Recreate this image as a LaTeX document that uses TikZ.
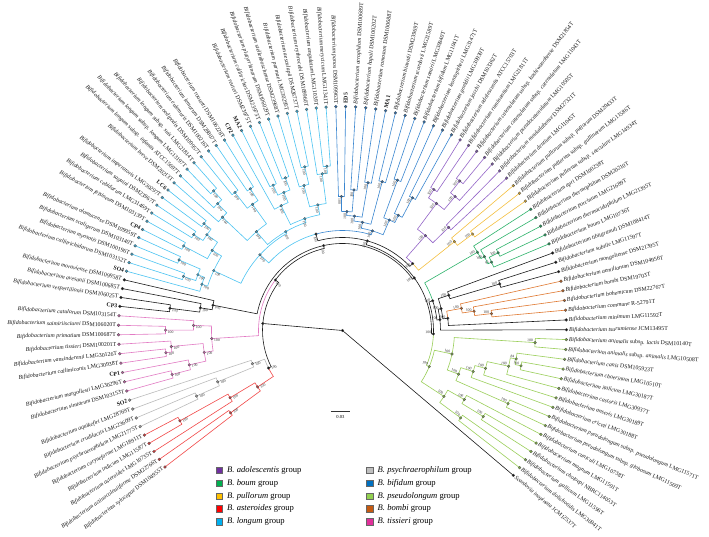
\documentclass[tikz,border=0pt]{standalone}
\usepackage{fontspec}
\setmainfont{Liberation Serif}
\pgfdeclarelayer{fg}
\pgfsetlayers{main,fg}
\definecolor{psl}{HTML}{9BCF5A}
\definecolor{bom}{HTML}{E07830}
\definecolor{blk}{HTML}{1A1A1A}
\definecolor{bou}{HTML}{2DB36B}
\definecolor{pul}{HTML}{F5C040}
\definecolor{ado}{HTML}{9466C8}
\definecolor{bif}{HTML}{3A86D0}
\definecolor{lon}{HTML}{4CC4F2}
\definecolor{tis}{HTML}{E27BC4}
\definecolor{psy}{HTML}{BBBBBB}
\definecolor{ast}{HTML}{F24848}
\definecolor{lgado}{HTML}{7030A0}
\definecolor{lgbou}{HTML}{00B050}
\definecolor{lgpul}{HTML}{FFC000}
\definecolor{lgast}{HTML}{FF0000}
\definecolor{lglon}{HTML}{00B0F0}
\definecolor{lgpsy}{HTML}{BFBFBF}
\definecolor{lgbif}{HTML}{0070C0}
\definecolor{lgpsl}{HTML}{92D050}
\definecolor{lgbom}{HTML}{C55A11}
\definecolor{lgtis}{HTML}{E0309A}
\tikzset{
  branch/.style={line width=0.6pt},
  leaflab/.style={font=\fontsize{5.85}{6.5}\selectfont, inner sep=0.4pt, text=black!90},
  bslab/.style={font=\fontsize{3.8}{4}\selectfont, inner sep=0.3pt, text=black!80},
  lgbox/.style={draw=black!60, line width=0.3pt, minimum size=6.3pt, inner sep=0pt},
  lgtext/.style={font=\fontsize{8.6}{10}\selectfont, anchor=west, inner sep=0pt},
}
\newcommand\getA[1]{\csname TA#1\endcsname}
\newcommand\getR[1]{\csname TR#1\endcsname}
\newcommand\getC[1]{\csname TC#1\endcsname}
\newcommand\clade[5]{%
  \gdef\cfirst{}%
  \foreach \ch in {#5}{\ifx\cfirst\empty\xdef\cfirst{\ch}\fi\xdef\clast{\ch}}%
  \pgfmathsetmacro\cang{(\getA{\cfirst}+\getA{\clast})/2}%
  \expandafter\xdef\csname TA#1\endcsname{\cang}%
  \expandafter\xdef\csname TR#1\endcsname{#2}%
  \expandafter\xdef\csname TC#1\endcsname{#3}%
  \foreach \ch in {#5}{%
    \edef\chA{\getA{\ch}}\edef\chR{\getR{\ch}}\edef\chC{\getC{\ch}}%
    \draw[branch,draw=\chC] (\cang:#2pt) arc[start angle=\cang, end angle=\chA, radius=#2pt] -- (\chA:\chR pt);
  }%
  \begin{pgfonlayer}{fg}
    \filldraw[draw=black!70, fill=#3!80!black, line width=0.25pt] (\cang:#2pt) circle[radius=1.35pt];
    \ifdim\cang pt<90pt
      \node[bslab, rotate=\cang, anchor=south east] at (\cang:#2pt-1.8pt) {#4};
    \else
      \node[bslab, rotate=\cang-180, anchor=north west] at (\cang:#2pt-1.8pt) {#4};
    \fi
  \end{pgfonlayer}
}
\begin{document}
\begin{tikzpicture}[x=1pt,y=1pt]
\useasboundingbox (-342.5,-206.5) rectangle (366.5,330.5);
\fill[white] (-342.5,-206.5) rectangle (366.5,330.5);
% ---------- leaves ----------
\foreach \i/\spn/\stn/\cl in {
1/Scardovia inopinata/JCM12537T/blk,
2/Bifidobacterium dolichotidis/LMG30941T/psl,
3/Bifidobacterium gallicum/LMG11596T/psl,
4/Bifidobacterium choloepi/NBRC114053T/psl,
5/Bifidobacterium magnum/LMG11591T/psl,
6/Bifidobacterium cuniculi/LMG10738T/psl,
7/Bifidobacterium pseudolongum \textup{subsp.} globosum/LMG11569T/psl,
8/Bifidobacterium pseudolongum \textup{subsp.} pseudolongum/LMG11571T/psl,
9/Bifidobacterium criceti/LMG30188T/psl,
10/Bifidobacterium anseris/LMG30189T/psl,
11/Bifidobacterium castoris/LMG30937T/psl,
12/Bifidobacterium italicum/LMG30187T/psl,
13/Bifidobacterium choerinum/LMG10510T/psl,
14/Bifidobacterium canis/DSM105923T/psl,
15/Bifidobacterium animalis \textup{subsp.} animalis/LMG10508T/psl,
16/Bifidobacterium animalis \textup{subsp.} lactis/DSM10140T/psl,
17/Bifidobacterium tsurumiense/JCM13495T/blk,
18/Bifidobacterium minimum/LMG11592T/blk,
19/Bifidobacterium commune/R-52791T/bom,
20/Bifidobacterium bohemicum/DSM22767T/bom,
21/Bifidobacterium bombi/DSM19703T/bom,
22/Bifidobacterium aemilianum/DSM104956T/bom,
23/Bifidobacterium mongoliense/DSM21395T/blk,
24/Bifidobacterium subtile/LMG11597T/blk,
25/Bifidobacterium tibiigranuli/DSM108414T/blk,
26/Bifidobacterium boum/LMG10736T/bou,
27/Bifidobacterium thermacidophilum/LMG21395T/bou,
28/Bifidobacterium porcinum/LMG21689T/bou,
29/Bifidobacterium thermophilum/DSM20210T/bou,
30/Bifidobacterium apri/DSM100238T/bou,
31/Bifidobacterium pullorum \textup{subsp.} saeculare/LMG14934T/pul,
32/Bifidobacterium pullorum \textup{subsp.} gallinarum/LMG11586T/pul,
33/Bifidobacterium pullorum \textup{subsp.} pullorum/DSM20433T/pul,
34/Bifidobacterium dentium/LMG11045T/ado,
35/Bifidobacterium moukalabense/DSM27321T/ado,
36/Bifidobacterium pseudocatenulatum/LMG10505T/ado,
37/Bifidobacterium catenulatum \textup{subsp.} catenulatum/LMG11043T/ado,
38/Bifidobacterium catenulatum \textup{subsp.} kashiwanohense/DSM21854T/ado,
39/Bifidobacterium ruminantium/LMG21811T/ado,
40/Bifidobacterium adolescentis/ATCC15703T/ado,
41/Bifidobacterium jacchi/DSM103362T/bif,
42/Bifidobacterium goeldii/LMG30939T/bif,
43/Bifidobacterium leontopitheci/LMG31471T/bif,
44/Bifidobacterium bifidum/LMG11041T/bif,
45/Bifidobacterium samirii/LMG30940T/bif,
46/Bifidobacterium scardovii/LMG21589T/bif,
47/Bifidobacterium biavatii/DSM23969T/bif,
48//MA1/bif,
49/Bifidobacterium ramosum/DSM100688T/bif,
50/Bifidobacterium hapali/DSM100202T/bif,
51/Bifidobacterium aerophilum/DSM100689T/bif,
52//ED5/bif,
53/Bifidobacterium panos/DSM109963T/bif,
54/Bifidobacterium merycicum/LMG11341T/lon,
55/Bifidobacterium angulatum/LMG11039T/lon,
56/Bifidobacterium erythrocebi/DSM109960T/lon,
57/Bifidobacterium aesculapii/DSM26737T/lon,
58/Bifidobacterium parmae/LMG30295T/lon,
59/Bifidobacterium stellenboschense/DSM23968T/lon,
60/Bifidobacterium platyrrhinorum/DSM106029T/lon,
61/Bifidobacterium callitrichos/DSM23973T/lon,
62/Bifidobacterium reuteri/DSM23975T/lon,
63//MA2/lon,
64//CP2/lon,
65/Bifidobacterium rousetti/DSM106228T/lon,
66/Bifidobacterium lemurum/DSM28807T/lon,
67/Bifidobacterium eulemuris/DSM100216T/lon,
68/Bifidobacterium oedipodis/DSM109957T/lon,
69/Bifidobacterium longum \textup{subsp.} suis/LMG21814T/lon,
70/Bifidobacterium longum \textup{subsp.} longum/LMG13197T/lon,
71/Bifidobacterium longum \textup{subsp.} infantis/ATCC15697T/lon,
72/Bifidobacterium breve/DSM20213T/lon,
73//LC6/lon,
74/Bifidobacterium imperatoris/LMG30297T/lon,
75/Bifidobacterium saguini/DSM23967T/lon,
76/Bifidobacterium cebidarum/LMG31469T/lon,
77/Bifidobacterium felsineum/DSM103139T/lon,
78//CP4/lon,
79/Bifidobacterium olomucense/DSM109959T/lon,
80/Bifidobacterium scaligerum/DSM103140T/lon,
81/Bifidobacterium myosotis/DSM100196T/lon,
82/Bifidobacterium callitrichidarum/DSM103152T/lon,
83//SO4/lon,
84/Bifidobacterium moraviense/DSM109958T/blk,
85/Bifidobacterium avesanii/DSM100685T/blk,
86/Bifidobacterium vespertilionis/DSM106025T/blk,
87//CP3/blk,
88/Bifidobacterium catulorum/DSM103154T/tis,
89/Bifidobacterium saimiriisciurei/DSM106020T/tis,
90/Bifidobacterium primatium/DSM100687T/tis,
91/Bifidobacterium tissieri/DSM100201T/tis,
92/Bifidobacterium vansinderenii/LMG30126T/tis,
93/Bifidobacterium callimiconis/LMG30938T/tis,
94//CP1/tis,
95/Bifidobacterium margollesii/LMG30296T/tis,
96/Bifidobacterium simiarum/DSM103153T/tis,
97//SO2/psy,
98/Bifidobacterium aquikefiri/LMG28769T/psy,
99/Bifidobacterium crudilactis/LMG23609T/psy,
100/Bifidobacterium psychraerophilum/LMG21775T/psy,
101/Bifidobacterium coryneforme/LMG18911T/ast,
102/Bifidobacterium indicum/LMG11587T/ast,
103/Bifidobacterium asteroides/LMG10735T/ast,
104/Bifidobacterium actinocoloniiforme/DSM22766T/ast,
105/Bifidobacterium xylocopae/DSM104955T/ast}{
  \pgfmathsetmacro\tmpa{\i<=17 ? -40.3+(\i-1)*2.531 : (\i<=33 ? 0.2+(\i-17)*2.506 : (\i<=41 ? 40.3+(\i-33)*2.575 : (\i<=52 ? 60.9+(\i-41)*2.573 : (\i<=66 ? 89.2+(\i-52)*2.507 : (\i<=78 ? 124.3+(\i-66)*2.408 : (\i<=87 ? 153.2+(\i-78)*2.289 : 173.8+(\i-87)*2.431))))))}
  \expandafter\xdef\csname TAL\i\endcsname{\tmpa}
  \expandafter\xdef\csname TRL\i\endcsname{224}
  \expandafter\xdef\csname TCL\i\endcsname{\cl}
  \begin{pgfonlayer}{fg}
    \filldraw[draw=black!70, fill=\cl!80!black, line width=0.25pt] (\tmpa:224pt) circle[radius=1.45pt];
  \end{pgfonlayer}
  \ifdim\tmpa pt<90pt
    \node[leaflab, anchor=west, rotate=\tmpa] (lab\i) at (\tmpa:226pt) {\ifx\spn\empty\textbf{\stn}\else\textit{\spn}~\stn\fi};
  \else
    \node[leaflab, anchor=east, rotate=\tmpa-180] (lab\i) at (\tmpa:226pt) {\ifx\spn\empty\textbf{\stn}\else\textit{\spn}~\stn\fi};
  \fi
}
% ---------- B. pseudolongum group ----------
\clade{p1}{182}{psl}{100}{L12,L13}
\clade{p2}{176}{psl}{84}{p1,L14}
\clade{p3}{170}{psl}{100}{L11,p2}
\clade{p4}{148}{psl}{100}{L10,p3}
\clade{p5}{137}{psl}{100}{L9,p4}
\clade{psa}{181}{psl}{100}{L7,L8}
\clade{p6}{124}{psl}{100}{psa,p5}
\clade{an}{193}{psl}{100}{L15,L16}
\clade{p7}{112}{psl}{100}{p6,an}
\clade{q1}{147}{psl}{100}{L2,L3}
\clade{q2}{165}{psl}{100}{L4,L5}
\clade{q3}{140}{psl}{100}{q2,L6}
\clade{q4}{121}{psl}{100}{q1,q3}
\clade{PS}{94}{psl}{100}{q4,p7}
% ---------- bombi group and ungrouped ----------
\clade{bo1}{150}{bom}{100}{L19,L20}
\clade{bo2}{133}{bom}{100}{bo1,L21}
\clade{bo3}{121}{bom}{100}{bo2,L22}
\clade{mb}{106}{blk}{100}{L18,bo3}
\clade{un1}{164}{blk}{100}{L23,L24}
\clade{un2}{112}{blk}{100}{un1,L25}
\clade{mbu}{101}{blk}{100}{mb,un2}
\clade{tm}{98}{blk}{100}{L17,mbu}
% ---------- B. boum group ----------
\clade{bm1}{174}{bou}{100}{L27,L28}
\clade{bm2}{164}{bou}{91}{L26,bm1}
\clade{bm3}{160}{bou}{100}{bm2,L29}
\clade{bm4}{156}{bou}{100}{bm3,L30}
\clade{N2}{95}{blk}{100}{tm,bm4}
\clade{N1}{91}{blk}{100}{PS,N2}
% ---------- B. pullorum and B. adolescentis groups ----------
\clade{pu1}{162}{pul}{100}{L31,L32}
\clade{pu2}{143}{pul}{100}{pu1,L33}
\clade{ad1}{190}{ado}{100}{L37,L38}
\clade{ad2}{175}{ado}{100}{L36,ad1}
\clade{ad3}{168}{ado}{100}{L39,L40}
\clade{ad4}{158}{ado}{100}{ad2,ad3}
\clade{ad5}{148}{ado}{100}{L34,L35}
\clade{ad6}{126}{ado}{100}{ad5,ad4}
\clade{N5}{97}{blk}{100}{pu2,ad6}
% ---------- B. bifidum group ----------
\clade{bf1}{150}{bif}{100}{L41,L42}
\clade{bf2}{128}{bif}{100}{bf1,L43}
\clade{bf3}{160}{bif}{100}{L44,L45}
\clade{bf4}{120}{bif}{100}{bf2,bf3}
\clade{bf5}{154}{bif}{100}{L46,L47}
\clade{bf6}{150}{bif}{100}{L48,L49}
\clade{bf7}{141}{bif}{100}{L50,L51}
\clade{bf8}{134}{bif}{100}{L52,L53}
\clade{bf9}{119}{bif}{100}{bf7,bf8}
\clade{bf10}{115}{bif}{100}{bf6,bf9}
\clade{bf11}{110}{bif}{100}{bf5,bf10}
\clade{BF}{104}{bif}{100}{bf4,bf11}
% ---------- B. longum group ----------
\clade{l1}{165}{lon}{100}{L54,L55}
\clade{l2}{158}{lon}{100}{l1,L56}
\clade{l3}{168}{lon}{100}{L57,L58}
\clade{l4}{150}{lon}{100}{l3,L59}
\clade{l5}{128}{lon}{100}{l2,l4}
\clade{l6}{163}{lon}{100}{L60,L61}
\clade{l7}{161}{lon}{100}{L62,L63}
\clade{l8}{150}{lon}{100}{l6,l7}
\clade{l9}{139}{lon}{100}{l8,L64}
\clade{l10}{118}{lon}{100}{l5,l9}
\clade{l11}{169}{lon}{100}{L65,L66}
\clade{l12}{175}{lon}{100}{L67,L68}
\clade{l13}{155}{lon}{100}{l11,l12}
\clade{l14}{190}{lon}{100}{L69,L70}
\clade{l15}{178}{lon}{100}{l14,L71}
\clade{l16}{165}{lon}{100}{l15,L72}
\clade{l17}{131}{lon}{100}{l13,l16}
\clade{l18}{114}{lon}{100}{l10,l17}
\clade{l19}{175}{lon}{100}{L73,L74}
\clade{l20}{177}{lon}{100}{L75,L76}
\clade{l21}{166}{lon}{100}{l19,l20}
\clade{l22}{180}{lon}{100}{L77,L78}
\clade{l23}{153}{lon}{100}{l21,l22}
\clade{l24}{178}{lon}{100}{L79,L80}
\clade{l25}{168}{lon}{100}{L81,L82}
\clade{l26}{155}{lon}{100}{l24,l25}
\clade{l27}{148}{lon}{100}{l26,L83}
\clade{l28}{142}{lon}{100}{l23,l27}
\clade{l29}{112}{lon}{100}{l18,l28}
\clade{LB}{100}{blk}{100}{BF,l29}
\clade{N4}{93}{blk}{100}{N5,LB}
\clade{N3}{89}{blk}{100}{N1,N4}
% ---------- ungrouped black cluster ----------
\clade{k1}{174}{blk}{100}{L86,L87}
\clade{k2}{144}{blk}{100}{L85,k1}
\clade{K}{132}{blk}{100}{L84,k2}
\clade{E}{87}{blk}{100}{N3,K}
% ---------- B. tissieri group ----------
\clade{t1}{177}{tis}{100}{L89,L90}
\clade{t2}{149}{tis}{100}{L88,t1}
\clade{t3}{178}{tis}{100}{L92,L93}
\clade{t4}{172}{tis}{100}{L91,t3}
\clade{t6}{176}{tis}{100}{L95,L96}
\clade{t5}{157}{tis}{100}{L94,t6}
\clade{t7}{140}{tis}{100}{t4,t5}
\clade{T}{131}{tis}{100}{t2,t7}
\clade{D}{84}{blk}{100}{E,T}
% ---------- B. psychraerophilum and B. asteroides groups ----------
\clade{gr1}{160}{psy}{100}{L99,L100}
\clade{gr2}{135}{psy}{100}{L98,gr1}
\clade{GR}{96}{psy}{100}{L97,gr2}
\clade{rd1}{186}{ast}{100}{L101,L102}
\clade{rd2}{131}{ast}{100}{rd1,L103}
\clade{rd3}{139}{ast}{100}{L104,L105}
\clade{RD}{102}{ast}{100}{rd2,rd3}
\clade{P}{83}{blk}{100}{GR,RD}
\clade{I}{80}{blk}{}{D,P}
% ---------- root ----------
\coordinate (root) at (0,0);
\draw[branch,draw=blk] (root) -- (\getA{L1}:224pt);
\draw[branch,draw=blk] (root) -- (\getA{I}:\getR{I} pt);
\begin{pgfonlayer}{fg}
  \filldraw[draw=black!70, fill=black, line width=0.25pt] (root) circle[radius=1.35pt];
\end{pgfonlayer}
% ---------- scale bar ----------
\coordinate (sbL) at (-11.5,-80.5);
\coordinate (sbR) at (7.5,-80.5);
\draw[line width=0.6pt, draw=black!80] (sbL) -- (sbR);
\node[font=\fontsize{4.6}{5}\selectfont, inner sep=0pt] (sblab) at (-2,-86.5) {0.03};
% ---------- legend ----------
\foreach \yy/\cc/\gn in {-139.5/lgado/adolescentis, -152.8/lgbou/boum, -165.7/lgpul/pullorum, -178.3/lgast/asteroides, -191.2/lglon/longum}{
  \node[lgbox, fill=\cc] at (-123.5,\yy) {};
  \node[lgtext] at (-115.5,\yy) {\textit{B. \gn} group};
}
\foreach \yy/\cc/\gn in {-139.5/lgpsy/psychraerophilum, -152.8/lgbif/bifidum, -165.7/lgpsl/pseudolongum, -178.3/lgbom/bombi, -191.2/lgtis/tissieri}{
  \node[lgbox, fill=\cc] at (27,\yy) {};
  \node[lgtext] at (35,\yy) {\textit{B. \gn} group};
}
\end{tikzpicture}
\end{document}
